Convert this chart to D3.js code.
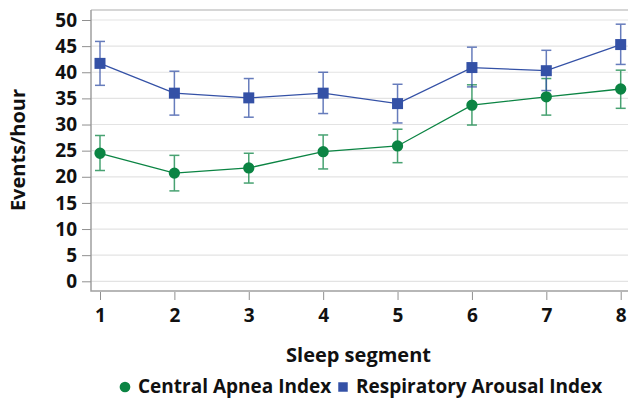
<!DOCTYPE html>
<html>
<head>
<meta charset="utf-8">
<script src="https://cdn.jsdelivr.net/npm/d3@7"></script>
<style>
  body { margin: 0; background: #fff; }
  text { font-family: "Open Sans", "Lato", sans-serif; font-weight: 700; fill: #111; }
</style>
</head>
<body>
<svg id="chart" width="629" height="399"></svg>
<script>
// data
const segments = [1, 2, 3, 4, 5, 6, 7, 8];
const yTicks = [0, 5, 10, 15, 20, 25, 30, 35, 40, 45, 50];

const caiMean = [24.5, 20.7, 21.7, 24.8, 25.9, 33.7, 35.3, 36.8];
const caiHigh = [27.9, 24.1, 24.5, 28.0, 29.1, 37.6, 38.8, 40.4];
const caiLow  = [21.2, 17.3, 18.8, 21.5, 22.7, 29.9, 31.8, 33.1];

const raiMean = [41.7, 36.0, 35.1, 36.0, 34.0, 40.9, 40.3, 45.3];
const raiHigh = [45.9, 40.2, 38.8, 40.0, 37.7, 44.8, 44.2, 49.2];
const raiLow  = [37.5, 31.8, 31.4, 32.1, 30.3, 37.2, 36.5, 41.5];

const green = "#0b8443", blue = "#3451a6";

const svg = d3.select("#chart");
const pLeft = 91, pRight = 628, pTop = 10, pBottom = 291;

const x = d3.scaleLinear().domain([1, 8]).range([100, 620.7]);
const y = d3.scaleLinear().domain([0, 50]).range([281.3, 20]);

// gridlines
svg.append("g").selectAll("line").data(yTicks).enter().append("line")
  .attr("x1", pLeft).attr("x2", pRight)
  .attr("y1", d => y(d)).attr("y2", d => y(d))
  .attr("stroke", "#e3e3e3").attr("stroke-width", 1.2);

// frame
svg.append("path")
  .attr("d", `M${pLeft},${pTop}H${pRight}`)
  .attr("stroke", "#c8c8c8").attr("stroke-width", 1.5).attr("fill", "none");
svg.append("path")
  .attr("d", `M${pLeft},${pTop}V${pBottom}H${pRight}`)
  .attr("stroke", "#a0a0a0").attr("stroke-width", 1.5).attr("fill", "none");

// y axis
const yAxis = svg.append("g").attr("transform", `translate(${pLeft},0)`)
  .call(d3.axisLeft(y).tickValues(yTicks).tickSize(9).tickPadding(5));
yAxis.select(".domain").remove();
yAxis.selectAll("line").attr("stroke", "#909090");
yAxis.selectAll("text").style("font-size", "19px").attr("fill", "#111");
yAxis.attr("font-family", null);

// x axis
const xAxis = svg.append("g").attr("transform", `translate(0,${pBottom + 1})`)
  .call(d3.axisBottom(x).tickValues(segments).tickFormat(d3.format("d")).tickSize(8).tickPadding(9));
xAxis.select(".domain").remove();
xAxis.selectAll("line").attr("stroke", "#909090");
xAxis.selectAll("text").style("font-size", "19px").attr("fill", "#111");
xAxis.attr("font-family", null);

// axis titles
svg.append("text").attr("x", (pLeft + pRight) / 2 - 1).attr("y", 362)
  .attr("text-anchor", "middle").style("font-size", "20px").text("Sleep segment");
svg.append("text").attr("transform", "translate(25,150) rotate(-90)")
  .attr("text-anchor", "middle").style("font-size", "20px").text("Events/hour");

function drawSeries(mean, low, high, color, shape) {
  const g = svg.append("g");
  const pts = segments.map((s, i) => ({ s, m: mean[i], lo: low[i], hi: high[i] }));
  g.append("path").datum(pts)
    .attr("d", d3.line().x(d => x(d.s)).y(d => y(d.m)))
    .attr("fill", "none").attr("stroke", color).attr("stroke-width", 1.3);
  const eb = g.selectAll(".eb").data(pts).enter().append("g").attr("opacity", 0.75);
  eb.append("line").attr("x1", d => x(d.s)).attr("x2", d => x(d.s))
    .attr("y1", d => y(d.lo)).attr("y2", d => y(d.hi)).attr("stroke", color).attr("stroke-width", 1.5);
  eb.append("line").attr("x1", d => x(d.s) - 5).attr("x2", d => x(d.s) + 5)
    .attr("y1", d => y(d.hi)).attr("y2", d => y(d.hi)).attr("stroke", color).attr("stroke-width", 1.5);
  eb.append("line").attr("x1", d => x(d.s) - 5).attr("x2", d => x(d.s) + 5)
    .attr("y1", d => y(d.lo)).attr("y2", d => y(d.lo)).attr("stroke", color).attr("stroke-width", 1.5);
  g.selectAll(".pt").data(pts).enter().append("path")
    .attr("transform", d => `translate(${x(d.s)},${y(d.m)})`)
    .attr("d", d3.symbol().type(shape).size(shape === d3.symbolCircle ? 100 : 121))
    .attr("fill", color);
}

drawSeries(caiMean, caiLow, caiHigh, green, d3.symbolCircle);
drawSeries(raiMean, raiLow, raiHigh, blue, d3.symbolSquare);

// legend
const legend = [
  { name: "Central Apnea Index", color: green, shape: d3.symbolCircle, x: 125 },
  { name: "Respiratory Arousal Index", color: blue, shape: d3.symbolSquare, x: 343 }
];
const lg = svg.append("g");
legend.forEach(l => {
  lg.append("path").attr("transform", `translate(${l.x},387)`)
    .attr("d", d3.symbol().type(l.shape).size(90)).attr("fill", l.color);
  lg.append("text").attr("x", l.x + 13).attr("y", 393).style("font-size", "19px").text(l.name);
});
</script>
</body>
</html>
